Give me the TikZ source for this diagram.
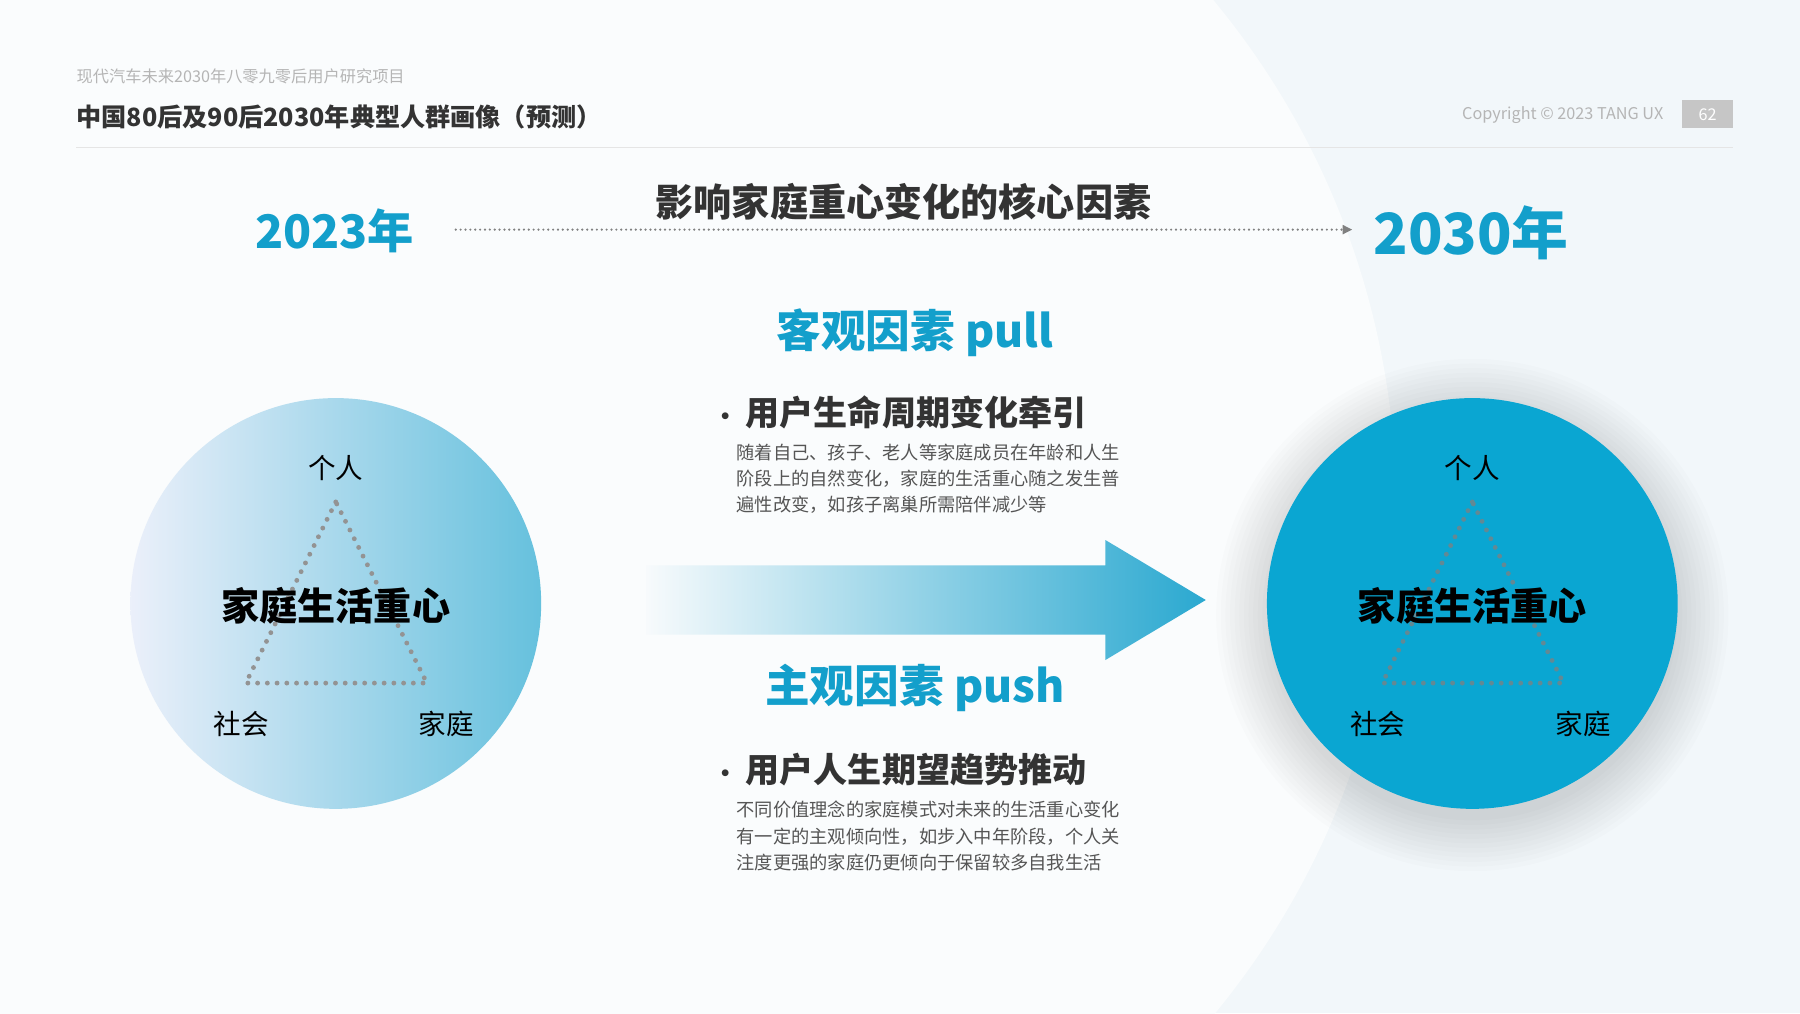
\documentclass[tikz,border=0pt]{standalone}
\usepackage{fontspec}
\setmainfont{Noto Sans CJK SC}
\usepackage{xcolor}
\usetikzlibrary{arrows.meta}
\definecolor{bgblue}{HTML}{F2F7FA}
\definecolor{tangblue}{HTML}{139FCB}
\definecolor{deepblue}{HTML}{0AA6D2}
\definecolor{darktext}{HTML}{333333}
\definecolor{bodytext}{HTML}{555555}
\definecolor{lighttext}{HTML}{B5B5B5}
\tikzset{
  year/.style={text=tangblue, font=\bfseries\fontsize{57}{60}\selectfont},
  factor/.style={text=tangblue, font=\bfseries\fontsize{55}{58}\selectfont},
  point/.style={anchor=west, text=darktext, font=\bfseries\fontsize{42}{46}\selectfont},
  body/.style={anchor=north west, align=left, text=bodytext, font=\fontsize{22.5}{32.5}\selectfont},
  corner/.style={font=\fontsize{34}{36}\selectfont},
  focus/.style={font=\bfseries\fontsize{47}{50}\selectfont},
  tri/.style={line width=6pt, line cap=round, dash pattern=on 0pt off 12pt, draw=gray!85},
}
\begin{document}
\begin{tikzpicture}[x=0.5mm,y=-0.5mm]
  \useasboundingbox (0,0) rectangle (1560,878);
  \clip (0,0) rectangle (1560,878);
  % background
  \fill[bgblue] (0,0) rectangle (1560,878);
  \fill[white!60!bgblue] (520,440) circle (690);

  % header
  \node[anchor=west, text=lighttext, font=\fontsize{20}{22}\selectfont] (project) at (64,66) {现代汽车未来2030年八零九零后用户研究项目};
  \node[anchor=west, text=darktext, font=\bfseries\fontsize{31}{34}\selectfont] (title) at (64,101) {中国80后及90后2030年典型人群画像（预测）};
  \node[anchor=east, text=lighttext, font=\fontsize{20}{22}\selectfont] (copy) at (1444,100) {Copyright © 2023 TANG UX};
  \node[fill=gray!45, text=white, minimum width=44*0.5mm, minimum height=24*0.5mm, font=\fontsize{20}{22}\selectfont] (page) at (1480,99) {62};
  \draw[gray!20, line width=1pt] (66,128) -- (1502,128);

  % timeline
  \node[year] (year23) at (290,200) {2023年};
  \node[year, font=\bfseries\fontsize{70}{74}\selectfont] (year30) at (1275,202) {2030年};
  \coordinate (lineend) at (1172,199);
  \draw[gray, line width=3pt, line cap=round, dash pattern=on 0pt off 6pt, -{Triangle[length=12pt,width=11pt]}] (395,199) -- (lineend);
  \node[text=darktext, font=\bfseries\fontsize{47}{50}\selectfont] (core) at (783,175) {影响家庭重心变化的核心因素};

  % objective factors
  \node[factor] (pull) at (793,288) {客观因素 pull};
  \node[point] (pullhead) at (616,357) {{\fontsize{30}{30}\selectfont·} 用户生命周期变化牵引};
  \node[body] (pullbody) at (636,382) {随着自己、孩子、老人等家庭成员在年龄和人生\\阶段上的自然变化，家庭的生活重心随之发生普\\遍性改变，如孩子离巢所需陪伴减少等};

  % subjective factors
  \node[factor] (push) at (793,596) {主观因素 push};
  \node[point] (pushhead) at (616,667) {{\fontsize{30}{30}\selectfont·} 用户人生期望趋势推动};
  \node[body] (pushbody) at (636,692) {不同价值理念的家庭模式对未来的生活重心变化\\有一定的主观倾向性，如步入中年阶段，个人关\\注度更强的家庭仍更倾向于保留较多自我生活};

  % big arrow
  \shade[left color=white!40!bgblue, right color=tangblue!90]
    (560,490) -- (958,490) -- (958,468) -- (1045,520) -- (958,572) -- (958,550) -- (560,550) -- cycle;

  % left circle
  \shade[left color=blue!3!bgblue, right color=tangblue!65] (291,523) circle (178);
  \coordinate (ltop) at (291,435);
  \coordinate (lleft) at (213,592);
  \coordinate (lright) at (370,592);
  \draw[tri] (ltop) -- (lleft) -- (lright) -- cycle;
  \node[corner] (lself) at (291,406) {个人};
  \node[corner] (lsoc) at (209,627) {社会};
  \node[corner] (lfam) at (387,627) {家庭};
  \node[focus] (lfocus) at (291,525) {家庭生活重心};

  % right circle with soft shadow
  \foreach \r in {222,218,...,178}
    \fill[black, opacity=0.012] (1276,533) circle (\r);
  \fill[deepblue] (1276,523) circle (178);
  \coordinate (rtop) at (1276,435);
  \coordinate (rleft) at (1198,592);
  \coordinate (rright) at (1355,592);
  \draw[tri, draw=gray!75!deepblue] (rtop) -- (rleft) -- (rright) -- cycle;
  \node[corner] (rself) at (1276,406) {个人};
  \node[corner] (rsoc) at (1194,627) {社会};
  \node[corner] (rfam) at (1372,627) {家庭};
  \node[focus] (rfocus) at (1276,525) {家庭生活重心};
\end{tikzpicture}
\end{document}
